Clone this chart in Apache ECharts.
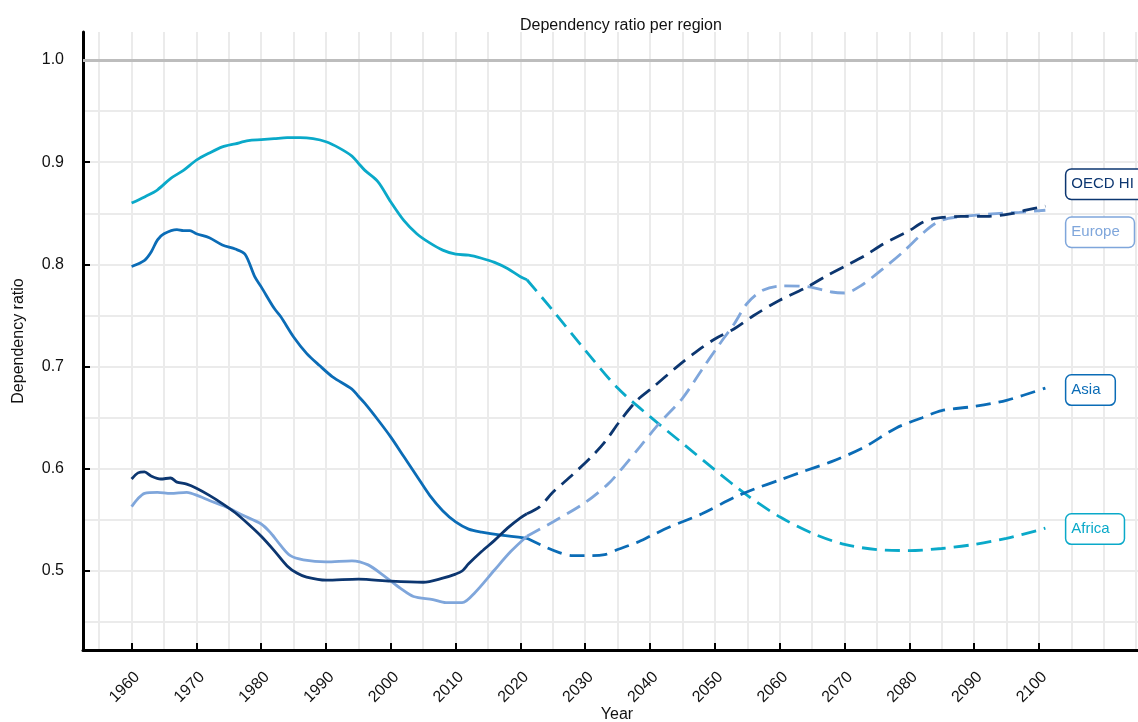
<!DOCTYPE html>
<html>
<head>
<meta charset="utf-8">
<title>Dependency ratio per region</title>
<script src="https://cdn.jsdelivr.net/npm/echarts@6/dist/echarts.min.js"></script>
<style>
    html, body { margin: 0; padding: 0; background: #fff; }
    #chart { width: 1138px; height: 722px; }
</style>
</head>
<body>
<div id="chart"></div>
<script>
    // tick / grid positions
    const xTickValues = [1960, 1970, 1980, 1990, 2000, 2010, 2020, 2030, 2040, 2050, 2060, 2070, 2080, 2090, 2100]
    const xGridValues = [1955, 1960, 1965, 1970, 1975, 1980, 1985, 1990, 1995, 2000, 2005, 2010, 2015, 2020, 2025, 2030,
        2035, 2040, 2045, 2050, 2055, 2060, 2065, 2070, 2075, 2080, 2085, 2090, 2095, 2100, 2105, 2110, 2115]
    const yTickValues = [0.5, 0.6, 0.7, 0.8, 0.9, 1.0]
    const yGridValues = [0.45, 0.5, 0.55, 0.6, 0.65, 0.7, 0.75, 0.8, 0.85, 0.9, 0.95]
    const referenceValue = 1.0

    // Africa
    const africaHistYears = [1960, 1962, 1964, 1966, 1968, 1970, 1972, 1974, 1976, 1978, 1980, 1982, 1984, 1986, 1988,
        1990, 1992, 1994, 1995, 1996, 1998, 2000, 2002, 2004, 2006, 2008, 2010, 2012, 2014, 2016, 2018, 2020, 2021]
    const africaHistValues = [0.860, 0.866, 0.873, 0.884, 0.892, 0.902, 0.909, 0.915, 0.918, 0.921, 0.922, 0.923, 0.924,
        0.924, 0.923, 0.920, 0.914, 0.906, 0.899, 0.892, 0.881, 0.861, 0.843, 0.830, 0.821, 0.814, 0.810, 0.809, 0.806,
        0.802, 0.796, 0.788, 0.785]
    const africaProjYears = [2021, 2025, 2030, 2035, 2040, 2045, 2050, 2055, 2060, 2065, 2070, 2075, 2080, 2085, 2090, 2095, 2100, 2101]
    const africaProjValues = [0.785, 0.755, 0.716, 0.679, 0.651, 0.625, 0.599, 0.574, 0.553, 0.537, 0.526, 0.521, 0.520,
        0.522, 0.526, 0.532, 0.540, 0.542]

    // Asia
    const asiaHistYears = [1960, 1962, 1963, 1964, 1965, 1967, 1968, 1969, 1970, 1972, 1974, 1976, 1977.5, 1979, 1980,
        1982, 1983, 1985, 1987, 1989, 1991, 1994, 1995, 1996, 1998, 2000, 2002, 2004, 2006, 2008, 2010, 2012, 2014, 2017, 2021]
    const asiaHistValues = [0.798, 0.804, 0.812, 0.824, 0.830, 0.834, 0.833, 0.833, 0.830, 0.826, 0.819, 0.815, 0.810,
        0.788, 0.778, 0.757, 0.749, 0.729, 0.713, 0.701, 0.690, 0.678, 0.671, 0.664, 0.648, 0.631, 0.612, 0.593, 0.574,
        0.559, 0.548, 0.541, 0.538, 0.535, 0.532]
    const asiaProjYears = [2021, 2024, 2026, 2028, 2030, 2033, 2035, 2038, 2040, 2043, 2048, 2053, 2056, 2060, 2063, 2068,
        2073, 2078, 2082, 2085, 2090, 2095, 2101]
    const asiaProjValues = [0.532, 0.523, 0.518, 0.515, 0.515, 0.516, 0.521, 0.528, 0.534, 0.543, 0.556, 0.572, 0.580,
        0.589, 0.596, 0.607, 0.621, 0.640, 0.650, 0.657, 0.661, 0.667, 0.679]

    // Europe
    const europeHistYears = [1960, 1961, 1962, 1964, 1966, 1968.5, 1970.5, 1972, 1974.5, 1977, 1980, 1981.5, 1983, 1984.5,
        1986.5, 1990, 1994, 1996.5, 1999, 2001.5, 2003.5, 2006.5, 2008.5, 2011, 2013, 2016, 2018.5, 2021]
    const europeHistValues = [0.563, 0.571, 0.576, 0.577, 0.576, 0.577, 0.573, 0.569, 0.563, 0.555, 0.546, 0.537, 0.525,
        0.515, 0.511, 0.509, 0.510, 0.506, 0.495, 0.483, 0.475, 0.472, 0.469, 0.469, 0.479, 0.501, 0.519, 0.534]
    const europeProjYears = [2021, 2025, 2030, 2033.5, 2035.5, 2038.5, 2041.5, 2045, 2048, 2050.5, 2053, 2055, 2057.5,
        2060.5, 2064.5, 2068, 2070, 2072.5, 2076, 2079, 2082, 2084, 2086, 2090, 2094, 2097, 2101]
    const europeProjValues = [0.534, 0.548, 0.567, 0.585, 0.599, 0.622, 0.645, 0.669, 0.697, 0.720, 0.742, 0.762, 0.775,
        0.779, 0.778, 0.773, 0.772, 0.779, 0.796, 0.812, 0.830, 0.840, 0.845, 0.848, 0.850, 0.851, 0.853]

    // OECD HI
    const oecdHistYears = [1960, 1961, 1962, 1963, 1964.5, 1966, 1967, 1968.5, 1970, 1972, 1974, 1976, 1978, 1980, 1982,
        1984, 1985.5, 1987, 1990, 1995, 2000, 2005, 2008, 2010, 2011, 2012, 2014, 2016, 2018, 2020, 2021]
    const oecdHistValues = [0.590, 0.596, 0.597, 0.593, 0.590, 0.591, 0.587, 0.585, 0.581, 0.574, 0.566, 0.557, 0.546,
        0.534, 0.520, 0.505, 0.498, 0.494, 0.491, 0.492, 0.490, 0.489, 0.493, 0.497, 0.500, 0.507, 0.519, 0.530, 0.542,
        0.552, 0.556]
    const oecdProjYears = [2021, 2023, 2025, 2028, 2031, 2033, 2035.5, 2038, 2040.5, 2044, 2047, 2050, 2053, 2056, 2060,
        2064, 2067, 2070, 2073, 2076, 2080, 2082, 2084, 2088, 2092, 2096, 2098, 2101]
    const oecdProjValues = [0.556, 0.563, 0.577, 0.594, 0.612, 0.626, 0.648, 0.667, 0.680, 0.699, 0.714, 0.727, 0.737,
        0.750, 0.765, 0.777, 0.788, 0.798, 0.808, 0.820, 0.833, 0.841, 0.845, 0.847, 0.847, 0.850, 0.853, 0.857]

    const font = 'Liberation Sans, Arial, sans-serif'

    function pairs (years, values) {
        return years.map((y, i) => [y, values[i]])
    }

    function lineSeries (name, years, values, color, dashed, labelDy) {
        const s = {
            name,
            type: 'line',
            xAxisIndex: 1,
            yAxisIndex: 1,
            symbol: 'none',
            smooth: 0.3,
            z: 2,
            lineStyle: {
                color,
                width: 2.8,
                type: dashed ? [15, 8] : 'solid'
            },
            data: pairs(years, values)
        }
        if (dashed) {
            s.endLabel = {
                show: true,
                formatter: name,
                color,
                fontFamily: font,
                fontSize: 15,
                backgroundColor: '#fff',
                borderColor: color,
                borderWidth: 1.5,
                borderRadius: 5,
                padding: [7, 14, 7, 5],
                distance: 21,
                offset: [0, labelDy]
            }
        }
        return s
    }

    const chart = echarts.init(document.getElementById('chart'))

    const hiddenAxis = {
        type: 'value',
        z: 0,
        axisLine: { show: false },
        axisLabel: { show: false },
        splitLine: { show: true, lineStyle: { color: '#ebebeb', width: 2 } }
    }

    const option = {
        animation: false,
        title: {
            text: 'Dependency ratio per region',
            left: 515,
            top: 13,
            textStyle: { fontFamily: font, fontSize: 16, fontWeight: 'normal', color: '#111' }
        },
        grid: { left: 83, top: 32, width: 1068, height: 618, outerBoundsMode: 'none', containLabel: false },
        xAxis: [
            Object.assign({}, hiddenAxis, {
                min: 1952.5, max: 2117.3, position: 'top',
                axisTick: { show: false, customValues: xGridValues }
            }),
            {
                type: 'value',
                min: 1952.5,
                max: 2117.3,
                position: 'bottom',
                z: 3,
                name: 'Year',
                nameLocation: 'middle',
                nameGap: 57,
                nameMoveOverlap: false,
                nameTextStyle: { fontFamily: font, fontSize: 16, color: '#111' },
                axisLine: { onZero: false, lineStyle: { color: '#000', width: 3 } },
                axisTick: { inside: true, length: 7, customValues: xTickValues, lineStyle: { color: '#000', width: 2 } },
                axisLabel: {
                    customValues: xTickValues,
                    rotate: 45,
                    margin: 19,
                    verticalAlign: 'top',
                    fontFamily: font,
                    fontSize: 16,
                    color: '#111',
                    formatter: v => String(v)
                },
                splitLine: { show: false }
            }
        ],
        yAxis: [
            Object.assign({}, hiddenAxis, {
                min: 0.4227, max: 1.0274, position: 'right',
                axisTick: { show: false, customValues: yGridValues }
            }),
            {
                type: 'value',
                min: 0.4227,
                max: 1.0274,
                position: 'left',
                z: 3,
                name: 'Dependency ratio',
                nameLocation: 'middle',
                nameGap: 56,
                nameMoveOverlap: false,
                nameTextStyle: { fontFamily: font, fontSize: 16, color: '#111' },
                axisLine: { onZero: false, lineStyle: { color: '#000', width: 3 } },
                axisTick: { inside: true, length: 7, customValues: yTickValues, lineStyle: { color: '#000', width: 2 } },
                axisLabel: {
                    customValues: yTickValues,
                    margin: 19,
                    fontFamily: font,
                    fontSize: 16,
                    color: '#111',
                    formatter: v => v.toFixed(1)
                },
                splitLine: { show: false }
            }
        ],
        series: [
            Object.assign(lineSeries('Africa', africaHistYears, africaHistValues, '#0aa9c9', false, 0), {
                markLine: {
                    silent: true,
                    symbol: 'none',
                    label: { show: false },
                    lineStyle: { color: '#bdbdbd', width: 3, type: 'solid' },
                    data: [{ yAxis: referenceValue }]
                }
            }),
            lineSeries('Africa', africaProjYears, africaProjValues, '#0aa9c9', true, 1),
            lineSeries('Asia', asiaHistYears, asiaHistValues, '#0b6cb6', false, 0),
            lineSeries('Asia', asiaProjYears, asiaProjValues, '#0b6cb6', true, 2),
            lineSeries('Europe', europeHistYears, europeHistValues, '#7fa6db', false, 0),
            lineSeries('Europe', europeProjYears, europeProjValues, '#7fa6db', true, 22),
            lineSeries('OECD HI', oecdHistYears, oecdHistValues, '#0c3670', false, 0),
            lineSeries('OECD HI', oecdProjYears, oecdProjValues, '#0c3670', true, -22)
        ]
    }

    chart.setOption(option)
</script>
</body>
</html>
